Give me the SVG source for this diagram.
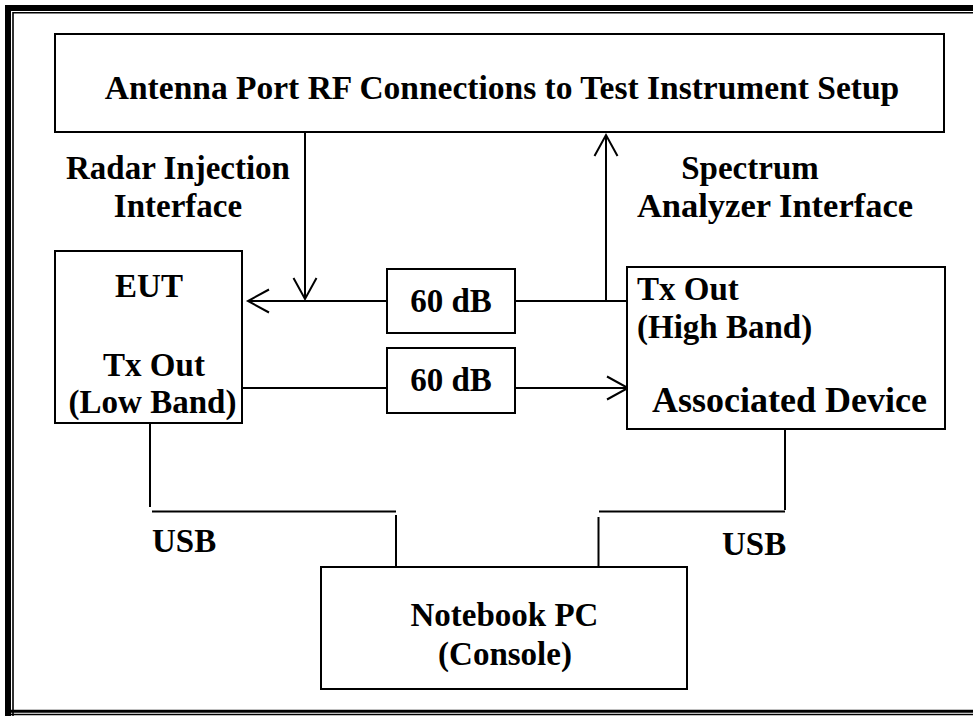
<svg xmlns="http://www.w3.org/2000/svg" width="973" height="716" viewBox="0 0 973 716">
<style>
.box{fill:#fff;stroke:#000;stroke-width:2}
.ln{fill:none;stroke:#000;stroke-width:2}
text{font-family:"Liberation Serif","Times New Roman",serif;font-weight:bold;font-size:33px;fill:#000}
.m{text-anchor:middle}
</style>
<defs>
<marker id="arr" markerUnits="userSpaceOnUse" markerWidth="30" markerHeight="30" viewBox="-25 -15 30 30" refX="0" refY="0" orient="auto">
<path d="M-21,-11.5 L0,0 L-21,11.5" fill="none" stroke="#000" stroke-width="2"/>
</marker>
</defs>
<rect width="973" height="716" fill="#fff"/>
<g id="frame">
<path d="M973,8 H8 V716" fill="none" stroke="#000" stroke-width="6"/>
<path d="M973,12.8 H13 V716" fill="none" stroke="#000" stroke-width="1.6"/>
<path d="M5,711.3 H973" fill="none" stroke="#000" stroke-width="3"/>
<path d="M5,714.6 H973" fill="none" stroke="#000" stroke-width="1.5"/>
</g>
<g id="connectors">
<path class="ln" d="M305,133 V299" marker-end="url(#arr)"/>
<path class="ln" d="M387,301 H248" marker-end="url(#arr)"/>
<path class="ln" d="M515,301 H630"/>
<path class="ln" d="M606,301 V135" marker-end="url(#arr)"/>
<path class="ln" d="M242,388 H387"/>
<path class="ln" d="M515,388 H628" marker-end="url(#arr)"/>
<path class="ln" d="M150,423 V507"/>
<path class="ln" d="M152,511.5 H396"/>
<path class="ln" d="M396,515 V567"/>
<path class="ln" d="M785,429 V510"/>
<path class="ln" d="M599,511.5 H785"/>
<path class="ln" d="M598.5,517 V567"/>
</g>
<g id="antenna">
<rect class="box" x="55" y="34" width="889" height="98"/>
<text class="m" x="502" y="99" style="font-size:33.5px">Antenna Port RF Connections to Test Instrument Setup</text>
</g>
<g id="radar-label">
<text class="m" x="178" y="179">Radar Injection</text>
<text class="m" x="178" y="217">Interface</text>
</g>
<g id="spectrum-label">
<text class="m" x="750" y="179">Spectrum</text>
<text class="m" x="775" y="217" style="font-size:34.5px">Analyzer Interface</text>
</g>
<g id="eut">
<rect class="box" x="55" y="251" width="187" height="172"/>
<text class="m" x="149" y="297">EUT</text>
<text class="m" x="154" y="376">Tx Out</text>
<text class="m" x="152.5" y="413">(Low Band)</text>
</g>
<g id="att1">
<rect class="box" x="387" y="269" width="128" height="64"/>
<text class="m" x="451" y="312">60 dB</text>
</g>
<g id="att2">
<rect class="box" x="387" y="348" width="128" height="65"/>
<text class="m" x="451" y="391">60 dB</text>
</g>
<g id="associated">
<rect class="box" x="627" y="267" width="318" height="162"/>
<text x="637" y="300">Tx Out</text>
<text x="637" y="338">(High Band)</text>
<text x="652" y="411.5" style="font-size:36px">Associated Device</text>
</g>
<g id="usb-labels">
<text x="152" y="552">USB</text>
<text x="722" y="555">USB</text>
</g>
<g id="pc">
<rect class="box" x="321" y="567" width="366" height="122"/>
<text class="m" x="504.5" y="626">Notebook PC</text>
<text class="m" x="505" y="665">(Console)</text>
</g>
</svg>
